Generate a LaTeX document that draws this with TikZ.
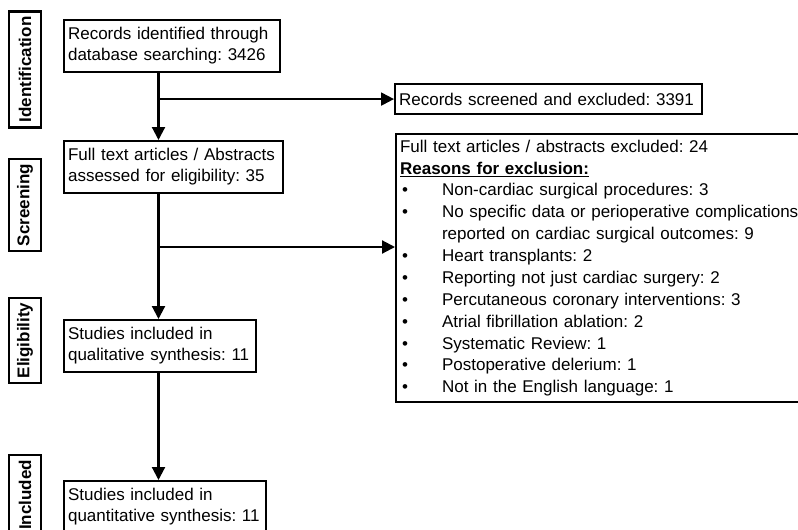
\documentclass[tikz,border=0pt]{standalone}
\usepackage{fontspec}
\setmainfont{Liberation Sans}
\usetikzlibrary{arrows.meta, positioning}
\newcommand{\flowfont}{\fontsize{12.75pt}{15.75pt}\selectfont\frenchspacing}
\newcommand{\listfont}{\fontsize{12.75pt}{16.4pt}\selectfont\frenchspacing}
\newcommand{\bul}{\makebox[31.5pt][l]{\hspace{1.5pt}•}}

\begin{document}
\begin{tikzpicture}[x=0.75pt, y=-0.75pt,
    stagebox/.style={draw, line width=1.6pt, font=\flowfont, align=left, anchor=north west, inner xsep=3pt, inner ysep=0pt},
    phase/.style={draw, line width=1.8pt, font=\flowfont\bfseries, rotate=90, minimum height=24pt, inner xsep=3.75pt, inner ysep=0pt},
    flow/.style={line width=1.6pt, -{Triangle[length=9.75pt, width=9.75pt]}}]
      \useasboundingbox (0,0) rectangle (798,529);
      \coordinate (spine) at (158.5,0);

      \node[phase] (ident) at (25,69.5) {Identification};
      \node[phase] (screen) at (25,205) {Screening};
      \node[phase] (elig) at (25,340.5) {Eligibility};
      \node[phase] (incl) at (25,495) {Included};

      \node[stagebox, text width=156pt, minimum height=39pt] (records) at (63,19)
            {Records identified through\\database searching: 3426};
      \node[stagebox, text width=158.25pt, minimum height=39pt] (fulltext) at (63,140)
            {Full text articles / Abstracts\\assessed for eligibility: 35};
      \node[stagebox, text width=138pt, minimum height=39pt] (qualit) at (63,319)
            {Studies included in\\qualitative synthesis: 11};
      \node[stagebox, text width=145.5pt, minimum height=39pt] (quantit) at (63,480)
            {Studies included in\\quantitative synthesis: 11};

      \node[stagebox, text width=224.25pt, minimum height=22.5pt] (screened) at (394,83)
            {Records screened and excluded: 3391};
      \node[stagebox, font=\listfont, text width=301pt, minimum height=201pt] (excluded) at (395,133)
            {Full text articles / abstracts excluded: 24\\
             \underline{\textbf{Reasons for exclusion:}}\\
             \bul Non-cardiac surgical procedures: 3\\
             \bul No specific data or perioperative complications\\
             \hspace*{31.5pt}reported on cardiac surgical outcomes: 9\\
             \bul Heart transplants: 2\\
             \bul Reporting not just cardiac surgery: 2\\
             \bul Percutaneous coronary interventions: 3\\
             \bul Atrial fibrillation ablation: 2\\
             \bul Systematic Review: 1\\
             \bul Postoperative delerium: 1\\
             \bul Not in the English language: 1};

      \draw[flow] (records.south -| spine) -- (fulltext.north -| spine);
      \draw[flow] (fulltext.south -| spine) -- (qualit.north -| spine);
      \draw[flow] (qualit.south -| spine) -- (quantit.north -| spine);

      \coordinate (split1) at (spine |- screened.west);
      \coordinate (split2) at (158.5,247);
      \draw[flow] (split1) -- (screened.west);
      \draw[flow] (split2) -- (split2 -| excluded.west);
    \end{tikzpicture}
\end{document}
